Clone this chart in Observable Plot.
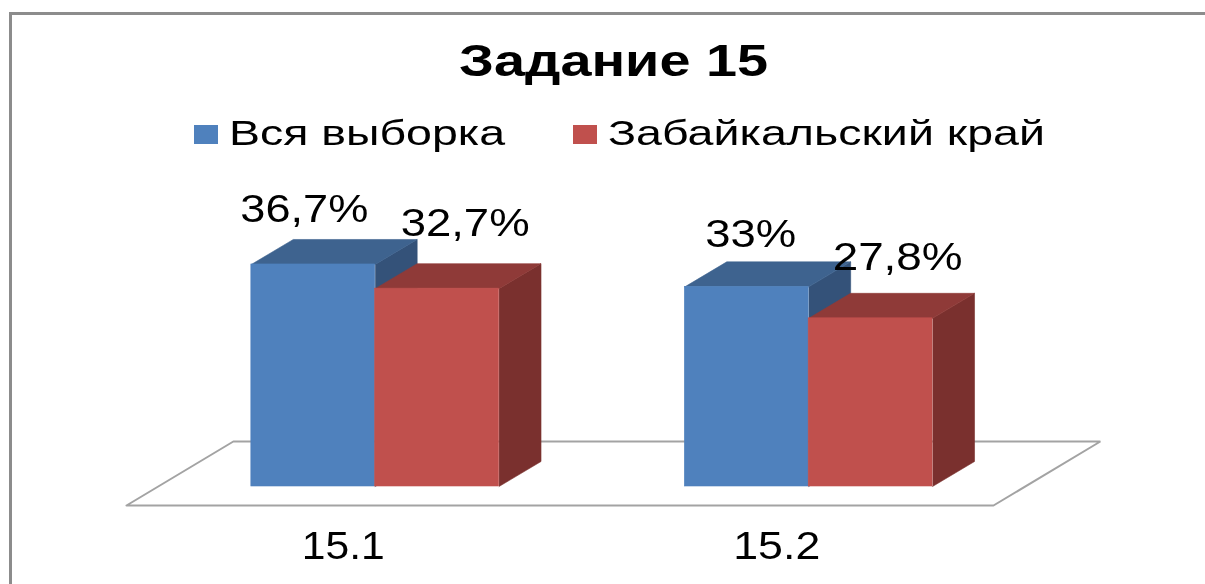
<!DOCTYPE html>
<html lang="ru">
<head>
<meta charset="utf-8">
<script src="https://cdn.jsdelivr.net/npm/d3@7"></script>
<script src="https://cdn.jsdelivr.net/npm/@observablehq/plot@0.6"></script>
<style>
  html, body { margin: 0; padding: 0; background: #fff; overflow: hidden; }
  body { width: 1205px; height: 584px; position: relative; font-family: "Liberation Sans", Arial, sans-serif; color: #000; filter: blur(0.45px); }
  #frame { position: absolute; left: 9px; top: 12px; width: 1300px; height: 700px; border-top: 3px solid #8c8c8c; border-left: 3px solid #8c8c8c; }
  #head { position: relative; height: 160px; }
  .t { position: absolute; line-height: 1; white-space: nowrap; transform-origin: 0 50%; }
  #title { font-size: 45px; font-weight: 700; left: 459px; top: 38px; }
  .leg { font-size: 35px; top: 115px; }
  .sw { position: absolute; top: 125px; height: 19px; width: 24px; }
  #chart svg { display: block; }
</style>
</head>
<body>
<div id="frame"></div>
<div id="head">
  <div class="t" id="title" data-w="309">Задание 15</div>
  <div class="sw" style="left:194px;background:#4f81bd"></div>
  <div class="t leg" id="leg0" style="left:229px" data-w="276"></div>
  <div class="sw" style="left:573px;background:#c0504d"></div>
  <div class="t leg" id="leg1" style="left:608px" data-w="437"></div>
</div>
<div id="chart"></div>
<script>
const categories = ["15.1", "15.2"];
const seriesNames = ["Вся выборка", "Забайкальский край"];
const wholeSample = [36.7, 33];
const zabaykalsky = [32.7, 27.8];
const valueLabels = [["36,7%", "33%"], ["32,7%", "27,8%"]];

const palette = [
  {front: "#4f81bd", top: "#3e638f", side: "#345279"},
  {front: "#c0504d", top: "#8f3a38", side: "#7a302e"}
];
// Label placement relative to the bar centre and bar top: [dx, dy baseline, text width] in pixels
const labelNudge = [
  [[-9, -42, 128], [4, -40, 91]],
  [[28, -53, 129], [27, -48, 130]]
];
const tickWidths = [83, 87];

// Oblique-projection geometry, in data units
const barWidth = 1 / 3.5;
const barShift = 0.0737;
const depthX = 0.0968, depthY = 4.13;
const floorDepthX = 0.2465, floorDepthY = 10.58, floorDrop = 3.14;

const values = [wholeSample, zabaykalsky];
const bars = [], faces = [], labels = [];
categories.forEach((c, i) => {
  values.forEach((vals, s) => {
    const x1 = i + barShift + (s - 1) * barWidth, x2 = x1 + barWidth, v = vals[i];
    bars.push({x1, x2, v, fill: palette[s].front});
    labels.push({x: (x1 + x2) / 2, v, text: valueLabels[s][i], nudge: labelNudge[s][i]});
    const id = `${i}-${s}`;
    [[x2, 0], [x2 + depthX, depthY], [x2 + depthX, v + depthY], [x2, v]]
      .forEach(([x, y]) => faces.push({id: id + "side", x, y, color: palette[s].side}));
    [[x1, v], [x1 + depthX, v + depthY], [x2 + depthX, v + depthY], [x2, v]]
      .forEach(([x, y]) => faces.push({id: id + "top", x, y, color: palette[s].top}));
  });
});
const y0 = -floorDrop;
const floor = [
  [-0.5, y0], [-0.5 + floorDepthX, y0 + floorDepthY],
  [1.5 + floorDepthX, y0 + floorDepthY], [1.5, y0], [-0.5, y0]
].map(([x, y]) => ({x, y}));

const textWidths = new Map();
const plot = Plot.plot({
  width: 1205,
  height: 424,
  marginTop: 0, marginLeft: 0, marginRight: 0, marginBottom: 60,
  x: {domain: [-0.5, 1.5], range: [126, 993], axis: null},
  y: {domain: [0, 50], range: [326, 23.5], axis: null},
  color: {type: "identity"},
  style: {background: "transparent", fontFamily: "'Liberation Sans', Arial, sans-serif", color: "#000", overflow: "visible"},
  marks: [
    Plot.line(floor, {x: "x", y: "y", fill: "#fff", stroke: "#a3a3a3", strokeWidth: 2, strokeLinejoin: "miter"}),
    Plot.line(faces, {x: "x", y: "y", z: "id", fill: "color", stroke: "color", strokeWidth: 0.6}),
    Plot.rectY(bars, {x1: "x1", x2: "x2", y1: 0, y2: "v", fill: "fill", stroke: "fill", strokeWidth: 0.6, inset: 0}),
    ...labels.map(d => Plot.text([d], {
      x: "x", y: "v", text: "text", dx: d.nudge[0], dy: d.nudge[1],
      fontSize: 38, lineAnchor: "bottom", fill: "#000"
    })),
    Plot.axisX({
      ticks: [0, 1], tickFormat: i => categories[i], tickSize: 0, tickPadding: 8,
      anchor: "bottom", fontSize: 38, label: null, labelAnchor: "center"
    })
  ]
});
document.getElementById("chart").append(plot);

// The reference is stretched horizontally: fit each text to its measured width.
labels.forEach(d => textWidths.set(d.text, d.nudge[2]));
categories.forEach((c, i) => textWidths.set(c, tickWidths[i]));
plot.querySelectorAll("text").forEach(t => {
  const w = textWidths.get(t.textContent);
  if (w) { t.setAttribute("textLength", w); t.setAttribute("lengthAdjust", "spacingAndGlyphs"); }
});

document.getElementById("leg0").textContent = seriesNames[0];
document.getElementById("leg1").textContent = seriesNames[1];
document.querySelectorAll(".t").forEach(el => {
  const w = el.getBoundingClientRect().width;
  el.style.transform = `scaleX(${+el.dataset.w / w})`;
});
</script>
</body>
</html>
